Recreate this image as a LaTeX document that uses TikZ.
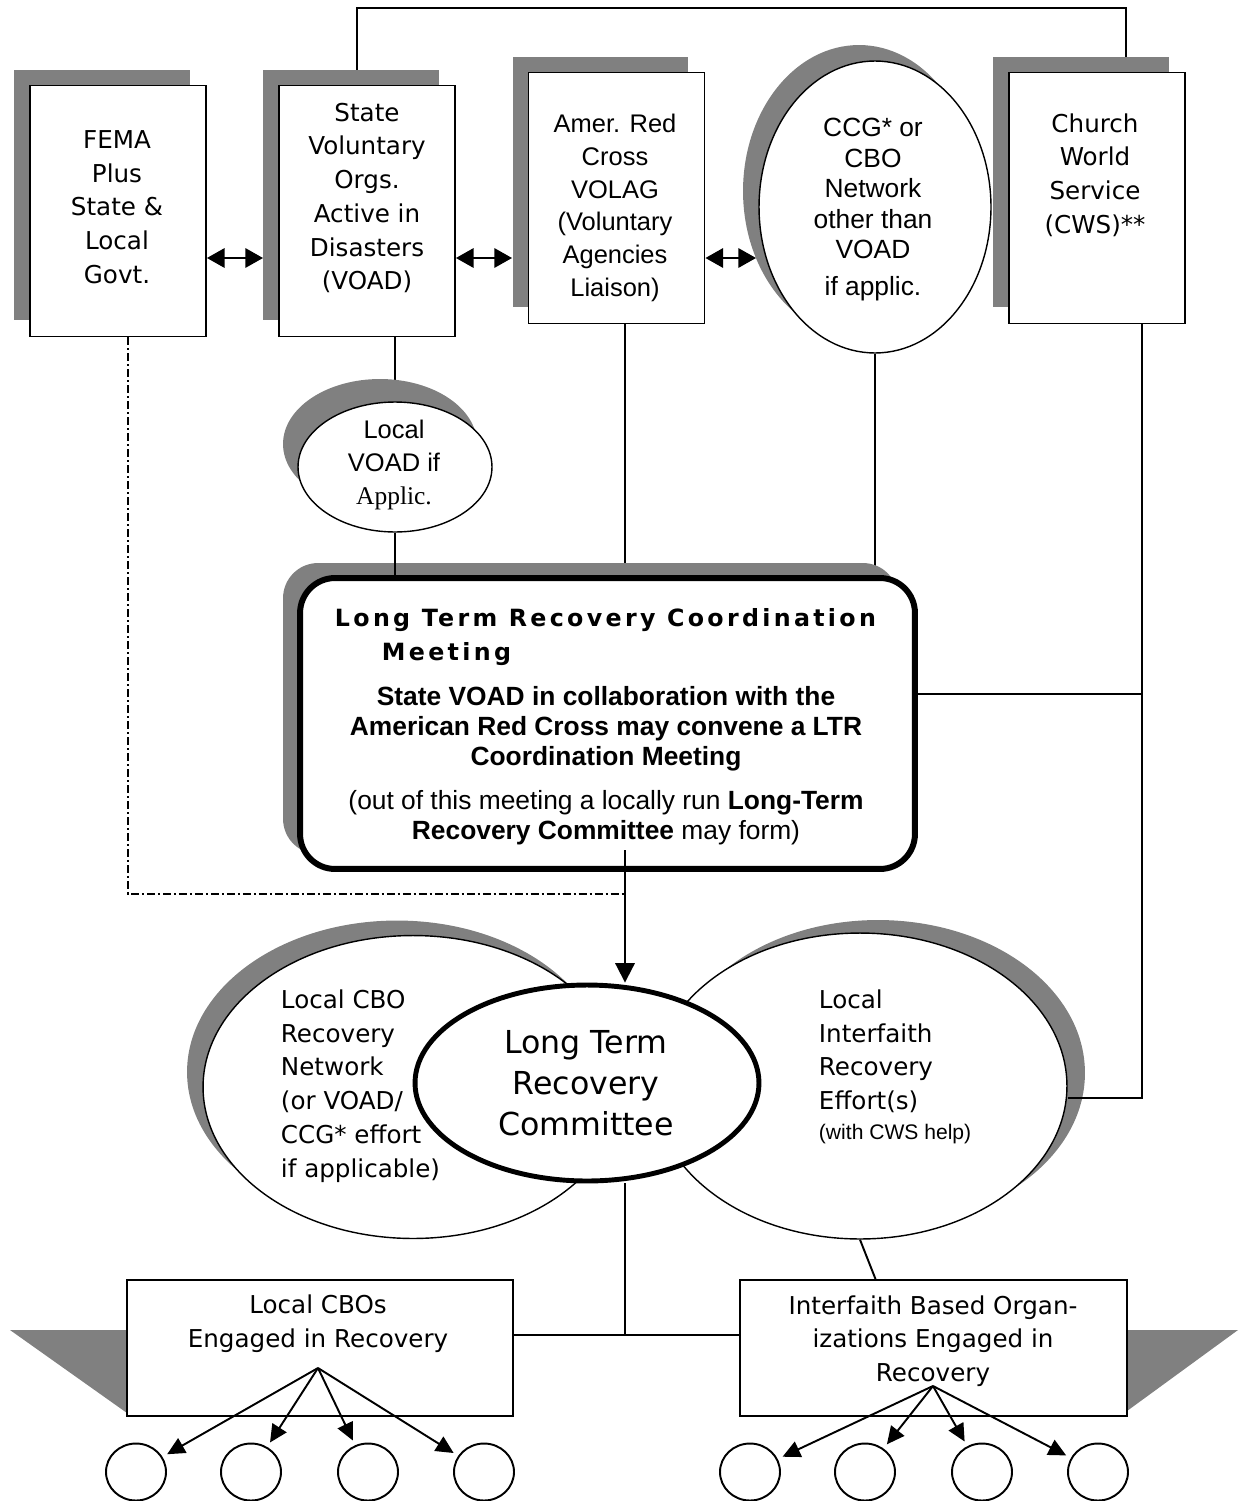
\documentclass[tikz,border=0pt]{standalone}
\usepackage{fontspec}
\setmainfont{DejaVu Sans}
\newfontfamily\arial{Liberation Sans}
\newfontfamily\romanfont{Liberation Serif}
\newfontfamily\titlefont[LetterSpace=14]{DejaVu Sans}
\usetikzlibrary{shapes.geometric,shadows,arrows.meta,backgrounds}
\definecolor{shadowgray}{RGB}{128,128,128}

\begin{document}
\begin{tikzpicture}[
		x=0.02cm, y=-0.02cm,
		line width=1.1pt,
		every node/.style={inner sep=0pt},
		sh/.style 2 args={drop shadow={shadow xshift=#1, shadow yshift=#2, fill=shadowgray, opacity=1}},
		orgbox/.style={draw, fill=white, minimum width=3.52cm, minimum height=5.02cm, sh={-0.32cm}{0.32cm}},
		org/.style={shape=ellipse, draw, fill=white, line width=0.8pt},
		leaf/.style={shape=ellipse, draw, minimum width=1.2cm, minimum height=1.14cm},
		engbox/.style={draw, fill=white, minimum width=7.73cm, minimum height=2.72cm},
		vtext/.style={align=center, font=\fontsize{14}{19.2}\selectfont},
		atext/.style={align=center, font=\arial\fontsize{14.5}{18.6}\selectfont},
		dbl/.style={{Triangle[length=10pt,width=11pt]}-{Triangle[length=10pt,width=11pt]}},
		fan/.style={-{Triangle[length=10pt,width=9.5pt]}, shorten >=3pt},
		bigarr/.style={-{Triangle[length=11pt,width=11pt]}},
		govlink/.style={line width=0.7pt, dash pattern=on 4.5pt off 1.7pt on 1.2pt off 1.7pt}
		]
		\useasboundingbox (0,0) rectangle (1238,1501);
		
		% top row
		\node[orgbox] (fema) at (118,211) {};
		\node[orgbox] (voad) at (367,211) {};
		\node[orgbox] (arc) at (616.5,198) {};
		\node[org, minimum width=4.64cm, minimum height=5.84cm, sh={-0.32cm}{0.32cm}] (ccg) at (875,207) {};
		\node[orgbox] (cws) at (1097,198) {};
		
		\node[vtext] (fematxt) at (117,207) {FEMA\\Plus\\State \&\\Local\\Govt.};
		\node[vtext] (voadtxt) at (367,198) {State\\Voluntary\\Orgs.\\Active in\\Disasters\\(VOAD)};
		\node[atext] (arctxt) at (615,208) {Amer. Red\\Cross\\VOLAG\\(Voluntary\\Agencies\\Liaison)};
		\node[atext, font=\arial\fontsize{15}{17.3}\selectfont] (ccgtxt) at (873,210) {CCG* or\\CBO\\Network\\other than\\VOAD\\[4pt]if applic.};
		\node[vtext] (cwstxt) at (1095,175) {Church\\World\\Service\\(CWS)**};
		
		\coordinate (arrY) at (0,258);
		\coordinate (voadsh) at (263,258);
		\coordinate (arcsh) at (512,258);
		\coordinate (ccgsh) at (756,258);
		\draw[dbl] (fema.east |- arrY) -- (voadsh);
		\draw[dbl] (voad.east |- arrY) -- (arcsh);
		\draw[dbl] (arc.east |- arrY) -- (ccgsh);
		
		% local VOAD
		\node[org, minimum width=3.88cm, minimum height=2.6cm, sh={-0.3cm}{0.46cm}] (lvoad) at (395,467) {};
		\node[atext] (lvoadtxt) at (394,465) {Local\\VOAD if\\{\romanfont Applic.}};
		
		% coordination meeting
		\node[draw, fill=white, line width=3.4pt, rounded corners=0.7cm, minimum width=12.3cm, minimum height=5.82cm, sh={-0.34cm}{0.3cm}] (mtg) at (607.5,723.5) {};
		\node[anchor=west, font=\titlefont\bfseries\fontsize{13.5}{15}\selectfont] (mtgtitle) at (334,620) {Long Term Recovery Coordination};
		\node[anchor=west, font=\titlefont\bfseries\fontsize{13.5}{15}\selectfont] (mtgtitle2) at (381,654) {Meeting};
		\node[align=center, font=\arial\bfseries\fontsize{15}{17}\selectfont] (mtgbody) at (606,729) {State VOAD in collaboration with the\\American Red Cross may convene a LTR\\Coordination Meeting};
		\node[align=center, font=\arial\fontsize{15}{17}\selectfont] (mtgnote) at (606,818) {(out of this meeting a locally run \textbf{Long-Term}\\\textbf{Recovery Committee} may form)};
		
		% local networks
		\node[org, minimum width=8.4cm, minimum height=6.06cm, sh={-0.32cm}{0.3cm}] (cbonet) at (413,1087) {};
		\node[org, minimum width=8.28cm, minimum height=6.12cm, sh={0.36cm}{0.26cm}] (ifr) at (860,1086) {};
		\node[shape=ellipse, draw, fill=white, line width=2.8pt, minimum width=6.88cm, minimum height=3.92cm] (ltrc) at (587,1083) {};
		\node[vtext, align=left, anchor=west] (cbonettxt) at (280,1086) {Local CBO\\Recovery\\Network\\(or VOAD/\\CCG* effort\\if applicable)};
		\node[vtext, align=left, anchor=west] (ifrtxt) at (818,1067) {Local\\Interfaith\\Recovery\\Effort(s)\\[-2pt]{\arial\fontsize{12}{14}\selectfont (with CWS help)}};
		\node[align=center, font=\fontsize{18}{23.5}\selectfont] (ltrctxt) at (586,1083) {Long Term\\Recovery\\Committee};
		
		% engaged organisations
		\fill[shadowgray] (10,1330) -- (127,1330) -- (127,1413) -- cycle;
		\fill[shadowgray] (1238,1330) -- (1127,1330) -- (1127,1411) -- cycle;
		\node[engbox] (cbo) at (320,1348) {};
		\node[engbox] (ifb) at (933.5,1348) {};
		\node[vtext] (cbotxt) at (318,1324) {Local CBOs\\Engaged in Recovery};
		\node[vtext] (ifbtxt) at (933,1341) {Interfaith Based Organ-\\izations Engaged in\\Recovery};
		
		\foreach \i/\x in {1/136,2/251,3/368,4/484}
		\node[leaf] (c\i) at (\x,1472) {};
		\foreach \i/\x in {1/750,2/865,3/982,4/1098}
		\node[leaf] (d\i) at (\x,1472) {};
		\coordinate (cbofan) at (318,1368);
		\coordinate (ifbfan) at (933,1386);
		\foreach \i in {1,...,4}{
			\draw[fan] (cbofan) -- (c\i);
			\draw[fan] (ifbfan) -- (d\i);
		}
		
		% connectors
		\coordinate (topL) at (357,8);
		\coordinate (topR) at (1126,8);
		\coordinate (mtgout) at (625,850);
		\coordinate (ddcorner) at (128,894);
		\coordinate (rbus) at (1142,694);
		\coordinate (rlow) at (1142,1098);
		\coordinate (bjunc) at (625,1335);
		\begin{scope}[on background layer={line width=1.1pt}]
			\draw (voad.north -| topL) -- (topL) -- (topR) -- (cws.north -| topR);
			\draw (voad.south -| lvoad.north) -- (lvoad.north);
			\draw (arc.south -| mtgout) -- (mtg.north -| mtgout);
			\draw (ccg.south) -- (mtg.north -| ccg.south);
			\draw (ltrc.south -| bjunc) -- (bjunc);
			\draw (ifr.south) -- ([xshift=-1.16cm]ifb.north);
		\end{scope}
		\draw (lvoad.south) -- (mtg.north -| lvoad.south);
		\draw (cws.south -| rbus) -- (rlow) -- (ifr.east |- rlow);
		\draw (mtg.east |- rbus) -- (rbus);
		\draw (cbo.east |- bjunc) -- (ifb.west |- bjunc);
		\draw[bigarr] (mtgout) -- (ltrc.north -| mtgout);
		\draw[govlink] (fema.south -| ddcorner) -- (ddcorner) -- (ddcorner -| mtgout);
\end{tikzpicture}
\end{document}
